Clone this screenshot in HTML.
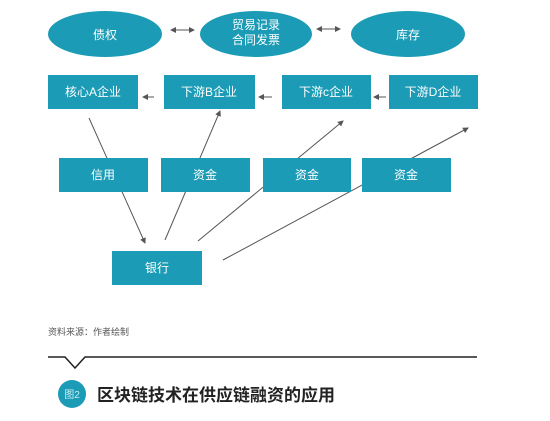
<!DOCTYPE html><html><head><meta charset="utf-8"><style>
body{margin:0;background:#fff;width:550px;height:416px;overflow:hidden;font-family:"Liberation Sans","Noto Sans CJK SC",sans-serif}
</style></head><body>
<svg width="550" height="416" xmlns="http://www.w3.org/2000/svg" font-family="Liberation Sans, Noto Sans CJK SC, sans-serif">
<defs><marker id="a" markerWidth="6" markerHeight="6" refX="5" refY="3" orient="auto" markerUnits="userSpaceOnUse"><path d="M0,0L6,3L0,6z" fill="#555"/></marker>
<marker id="b" markerWidth="6" markerHeight="6" refX="1" refY="3" orient="auto" markerUnits="userSpaceOnUse"><path d="M6,0L0,3L6,6z" fill="#555"/></marker></defs>
<g stroke="#555" stroke-width="1" fill="none">
<line x1="171" y1="30" x2="194" y2="30" marker-start="url(#b)" marker-end="url(#a)"/>
<line x1="317" y1="29" x2="340" y2="29" marker-start="url(#b)" marker-end="url(#a)"/>
<line x1="154" y1="97" x2="143" y2="97" marker-end="url(#a)"/>
<line x1="272" y1="97" x2="259" y2="97" marker-end="url(#a)"/>
<line x1="386" y1="97" x2="374" y2="97" marker-end="url(#a)"/>
<line x1="89" y1="118" x2="145" y2="243" marker-end="url(#a)"/>
<line x1="165" y1="240" x2="220" y2="111" marker-end="url(#a)"/>
<line x1="198" y1="241" x2="343" y2="121" marker-end="url(#a)"/>
<line x1="223" y1="260" x2="468" y2="128" marker-end="url(#a)"/>
</g>
<g fill="#1b9bb5">
<ellipse cx="105" cy="34" rx="57" ry="23"/><ellipse cx="256" cy="34" rx="56" ry="23"/><ellipse cx="408" cy="34" rx="57" ry="23"/>
<rect x="48" y="75" width="90" height="34"/><rect x="164" y="75" width="91" height="34"/><rect x="282" y="75" width="89" height="34"/><rect x="389" y="75" width="89" height="34"/>
<rect x="59" y="158" width="89" height="34"/><rect x="161" y="158" width="89" height="34"/><rect x="263" y="158" width="88" height="34"/><rect x="362" y="158" width="89" height="34"/>
<rect x="112" y="251" width="90" height="34"/>
</g>
<g fill="#fff" font-size="12" text-anchor="middle">
<text x="105" y="39">债权</text><text x="256" y="29">贸易记录</text><text x="256" y="44">合同发票</text><text x="408" y="39">库存</text>
<text x="93" y="96">核心A企业</text><text x="209" y="96">下游B企业</text><text x="326" y="96">下游c企业</text><text x="433" y="96">下游D企业</text>
<text x="103" y="179">信用</text><text x="205" y="179">资金</text><text x="307" y="179">资金</text><text x="406" y="179">资金</text>
<text x="157" y="272">银行</text>
</g>
<text x="48" y="335" font-size="9" fill="#555">资料来源：作者绘制</text>
<polyline points="48,357 65,357 75,368 85,357 477,357" fill="none" stroke="#222" stroke-width="1.5"/>
<circle cx="72" cy="394" r="14" fill="#1b9bb5"/>
<text x="72" y="398" font-size="10" fill="#cfeff5" text-anchor="middle">图2</text>
<text x="97" y="401" font-size="17" font-weight="bold" fill="#222">区块链技术在供应链融资的应用</text>
</svg>
</body></html>
